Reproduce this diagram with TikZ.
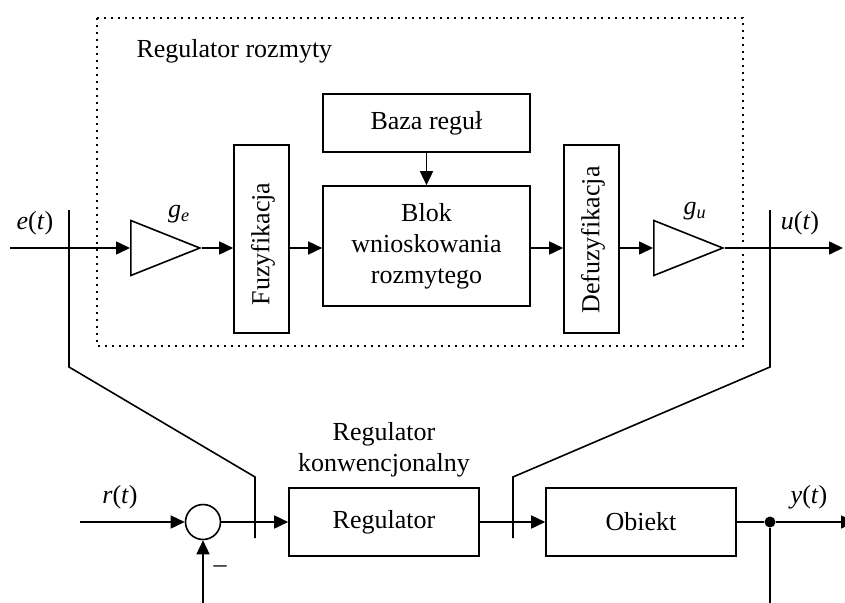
\documentclass[tikz,border=0pt]{standalone}
\usepackage{fontspec}
\setmainfont{Liberation Serif}
\usetikzlibrary{arrows.meta,shapes.geometric}
\begin{document}
\begin{tikzpicture}[x=1pt,y=-1pt,
  every node/.style={font=\fontsize{26}{31}\selectfont},
  ln/.style={line width=1.6pt},
  arr/.style={ln,-{Triangle[length=14pt,width=13pt]}},
  blk/.style={draw,line width=1.6pt,inner sep=0pt},
  amp/.style={draw,line width=1.6pt,isosceles triangle,isosceles triangle stretches,
    minimum width=55pt,minimum height=69pt,inner sep=0pt,anchor=lower side},
  dotbox/.style={line width=1.6pt,dash pattern=on 1.6pt off 5.4pt}
]
\useasboundingbox (0,0) rectangle (845,602);
\fill[white] (0,0) rectangle (845,602);

% fuzzy controller frame
\draw[dotbox] (97,18) rectangle (743,346);
\node[anchor=base west] (title) at (133,57) {Regulator rozmyty};

% blocks
\node[amp] (ge) at (130,248) {};
\node[blk,minimum width=55pt,minimum height=188pt] (fuz) at (261.5,239) {};
\node[rotate=90] (fuzt) at (263,244) {Fuzyfikacja};
\node[blk,minimum width=207pt,minimum height=58pt] (baza) at (426.5,123) {Baza reguł};
\node[blk,minimum width=207pt,minimum height=120pt,align=center] (blok) at (426.5,246) {Blok\\wnioskowania\\rozmytego};
\node[blk,minimum width=55pt,minimum height=188pt] (defuz) at (591.5,239) {};
\node[rotate=90] (defuzt) at (593,240) {Defuzyfikacja};
\node[amp] (gu) at (653,248) {};

\node (gel) at (179,214) {\textit{g}\textsubscript{\textit{e}}};
\node (gul) at (695,211) {\textit{g}\textsubscript{\textit{u}}};
\node (el) at (35,223) {\textit{e}(\textit{t})};
\node (ul) at (800,223) {\textit{u}(\textit{t})};

% top signal path
\coordinate (ein) at (10,248);
\coordinate (uout) at (843,248);
\draw[arr] (ein) -- (ge.lower side);
\draw[arr] (ge.apex) -- (ge.apex -| fuz.west);
\draw[arr] (ge.apex -| fuz.east) -- (ge.apex -| blok.west);
\draw[arr] (baza) -- (blok);
\draw[arr] (ge.apex -| blok.east) -- (ge.apex -| defuz.west);
\draw[arr] (ge.apex -| defuz.east) -- (gu.lower side);
\draw[arr] (gu.apex) -- (uout);

% switch lines
\coordinate (s1a) at (69,210);
\coordinate (s1b) at (69,367);
\coordinate (s1c) at (255,477);
\coordinate (s1d) at (255,538);
\draw[ln] (s1a) -- (s1b) -- (s1c) -- (s1d);
\coordinate (s2a) at (770,210);
\coordinate (s2b) at (770,367);
\coordinate (s2c) at (513,477);
\coordinate (s2d) at (513,538);
\draw[ln] (s2a) -- (s2b) -- (s2c) -- (s2d);

% conventional loop
\node[draw,circle,line width=1.6pt,minimum size=35pt,inner sep=0pt] (sum) at (203,522) {};
\node[blk,minimum width=190pt,minimum height=68pt] (reg) at (384,522) {Regulator};
\node[blk,minimum width=190pt,minimum height=68pt] (obj) at (641,522) {Obiekt};
\node[align=center] (regl) at (384,450) {Regulator\\konwencjonalny};
\node[circle,fill,inner sep=0pt,minimum size=11pt] (ydot) at (770,522) {};
\node (rl) at (120,497) {\textit{r}(\textit{t})};
\node (yl) at (809,497) {\textit{y}(\textit{t})};
\node (minus) at (220,569) {\textendash};

\coordinate (rin) at (80,522);
\coordinate (yout) at (855,522);
\coordinate (ybot) at (770,605);
\coordinate (fb) at (203,605);
\draw[arr] (rin) -- (sum.west);
\draw[arr] (sum.east) -- (reg.west);
\draw[arr] (reg.east) -- (obj.west);
\draw[ln] (obj.east) -- (ydot);
\draw[arr] (ydot) -- (yout);
\draw[ln] (ydot) -- (ybot);
\draw[arr] (fb) -- (sum.south);
\end{tikzpicture}
\end{document}
